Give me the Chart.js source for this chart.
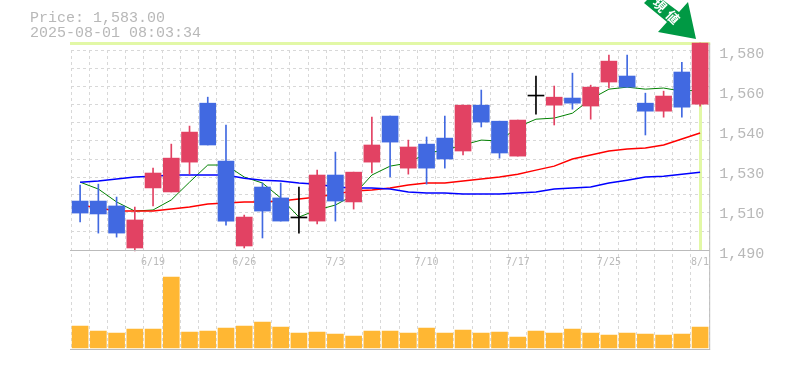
<!DOCTYPE html>
<html>
<head>
<meta charset="utf-8">
<script src="https://cdn.jsdelivr.net/npm/chart.js@4"></script>
<style>
  body { margin: 0; background: #fff; overflow: hidden; }
  #wrap { position: relative; width: 785px; height: 370px; }
  #info { position: absolute; left: 30px; top: 11px; font: 15px/15px "Liberation Mono", monospace; color: #b8b8b8; white-space: pre; }
  #arrow { position: absolute; left: 0; top: 0; }
</style>
</head>
<body>
<div id="wrap">
  <canvas id="chart" width="785" height="370"></canvas>
  <div id="info">Price: 1,583.00
2025-08-01 08:03:34</div>
  <svg id="arrow" width="785" height="50">
    <polygon points="644,3 647,0 663,0 679,12 688,2 696,39 658,32 667,22" fill="#009944"/>
    <text x="660" y="10" transform="rotate(45 660 5)" text-anchor="middle" font-family="Noto Sans CJK JP" font-weight="700" font-size="13" fill="#fff">現</text>
    <text x="673" y="22" transform="rotate(45 673 17)" text-anchor="middle" font-family="Noto Sans CJK JP" font-weight="700" font-size="13" fill="#fff">値</text>
  </svg>
</div>
<script>
// ── Data ──
const dates = ['6/13','6/16','6/17','6/18','6/19','6/20','6/23','6/24','6/25','6/26','6/27','6/30','7/1','7/2','7/3','7/4','7/7','7/8','7/9','7/10','7/11','7/14','7/15','7/16','7/17','7/18','7/22','7/23','7/24','7/25','7/28','7/29','7/30','7/31','8/1'];
const shownDates = ['6/19','6/26','7/3','7/10','7/17','7/25','8/1'];

const opens  = [1512.0,1512.0,1509.8,1490.9,1517.9,1516.1,1529.5,1556.0,1530.0,1491.8,1518.3,1513.4,1504.4,1503.0,1523.7,1511.6,1529.5,1550.2,1526.8,1537.6,1540.3,1534.5,1555.1,1547.9,1532.2,1559.2,1555.1,1558.3,1554.7,1565.5,1568.2,1556.0,1552.4,1570.0,1555.6];
const closes = [1506.6,1506.2,1497.6,1503.5,1524.6,1531.3,1543.0,1537.2,1503.0,1504.8,1507.5,1503.0,1504.4,1523.7,1512.0,1525.0,1537.2,1538.5,1536.3,1526.8,1530.9,1555.1,1547.5,1533.6,1548.4,1559.2,1558.7,1556.0,1563.2,1574.9,1563.2,1552.4,1559.2,1554.2,1583.0];
const highs  = [1519.2,1519.6,1513.8,1509.3,1526.8,1537.6,1545.7,1558.7,1546.2,1505.7,1520.1,1520.1,1518.3,1525.9,1534.0,1525.0,1549.7,1550.2,1539.4,1540.8,1550.2,1555.1,1561.9,1547.9,1548.4,1568.2,1563.7,1569.5,1564.1,1577.6,1577.6,1560.5,1561.4,1574.4,1583.0];
const lows   = [1502.6,1497.6,1495.8,1489.6,1509.8,1516.1,1524.1,1537.2,1501.2,1490.9,1495.4,1503.0,1497.6,1501.7,1503.0,1508.4,1524.6,1522.8,1524.1,1519.6,1526.8,1532.7,1545.3,1531.3,1532.2,1551.1,1546.2,1553.3,1548.8,1562.8,1563.2,1541.7,1549.7,1549.7,1554.7];

const maShort = [1520.5,1517.4,1511.6,1507.5,1508.0,1512.5,1520.5,1528.2,1528.2,1522.8,1520.1,1513.4,1504.8,1508.0,1510.2,1514.7,1523.7,1527.7,1529.1,1533.6,1534.9,1537.2,1539.4,1539.0,1545.3,1548.8,1549.3,1551.5,1557.8,1562.3,1563.2,1562.3,1562.8,1561.4,1561.9];
const maMid   = [1510.2,1508.9,1507.5,1507.5,1507.5,1508.4,1509.3,1510.7,1511.1,1511.6,1511.6,1512.0,1512.9,1513.8,1515.2,1516.5,1517.0,1517.9,1519.2,1520.1,1520.1,1521.0,1521.9,1522.8,1524.1,1525.9,1527.7,1530.9,1532.7,1534.5,1535.4,1535.8,1537.2,1539.9,1542.6];
const maLong  = [1520.5,1521.0,1521.9,1522.8,1523.2,1523.7,1523.7,1523.7,1523.7,1522.3,1521.4,1521.0,1520.1,1519.6,1518.3,1517.9,1517.9,1517.4,1516.1,1515.6,1515.6,1515.2,1515.2,1515.2,1515.6,1516.1,1517.4,1517.9,1518.3,1520.1,1521.4,1522.8,1523.2,1524.1,1525.0];

const volumes = [22,17,15,19,19,71,16,17,20,22,26,21,15,16,14,12,17,17,15,20,15,18,15,16,11,17,15,19,15,13,15,14,13,14,21];

const priceTicks = [1580,1562,1544,1526,1508,1490];
const priceTickLabels = ['1,580','1,560','1,540','1,530','1,510','1,490'];
const gridPrices = [1579.9,1571.8,1563.7,1555.6,1547.5,1539.0,1530.9,1522.8,1514.8,1506.7,1498.1];
const lastPrice = 1583;
const panelBottom = 1490;

const UP = '#e24263', DOWN = '#4169e1', FLAT = '#000000';
const candleColors = opens.map((o, i) => closes[i] > o ? UP : closes[i] < o ? DOWN : FLAT);

// ── Repères : prix courant et cadre ──
const marks = {
  id: 'marks',
  beforeDatasetsDraw(chart) {
    const { ctx, chartArea: a, scales } = chart;
    const yTop = Math.round(scales.y.getPixelForValue(lastPrice)) + 0.5;
    const yBase = scales.y.getPixelForValue(panelBottom);
    const xLast = Math.round(scales.x.getPixelForValue(dates.length - 1)) + 0.5;
    ctx.save();
    ctx.strokeStyle = '#e2f8a6';
    ctx.lineWidth = 3;
    ctx.beginPath();
    ctx.moveTo(a.left - 1, yTop);
    ctx.lineTo(a.right + 1, yTop);
    ctx.moveTo(xLast, yTop);
    ctx.lineTo(xLast, yBase);
    ctx.stroke();
    ctx.restore();
  },
  afterDatasetsDraw(chart) {
    const { ctx, chartArea: a, scales } = chart;
    const yTop = scales.y.getPixelForValue(lastPrice);
    const yBase = Math.round(scales.y.getPixelForValue(panelBottom)) + 0.5;
    ctx.save();
    ctx.strokeStyle = '#bbbbbb';
    ctx.lineWidth = 1;
    ctx.beginPath();
    ctx.moveTo(a.left - 1, yBase);
    ctx.lineTo(a.right, yBase);
    ctx.moveTo(a.left - 1, a.bottom + 0.5);
    ctx.lineTo(a.right + 1, a.bottom + 0.5);
    ctx.moveTo(a.right + 0.5, yTop);
    ctx.lineTo(a.right + 0.5, a.bottom + 0.5);
    ctx.stroke();
    ctx.restore();
  }
};

const lineDs = (data, color, width) => ({
  type: 'line', data, yAxisID: 'y', order: 4,
  borderColor: color, borderWidth: width, pointRadius: 0, tension: 0, fill: false
});

new Chart(document.getElementById('chart'), {
  data: {
    labels: dates,
    datasets: [
      { type: 'bar', data: volumes, yAxisID: 'yVol', order: 5, grouped: false,
        backgroundColor: '#ffb733', barThickness: 16 },
      lineDs(maLong, '#0000ff', 1.5),
      lineDs(maMid, '#ff0000', 1.5),
      lineDs(maShort, '#008000', 1),
      { type: 'bar', data: lows.map((l, i) => [l, highs[i]]), yAxisID: 'y', order: 2, grouped: false,
        clip: false, backgroundColor: candleColors, barThickness: 1 },
      { type: 'bar', data: opens.map((o, i) => [o, closes[i]]), yAxisID: 'y', order: 1, grouped: false,
        clip: false, backgroundColor: candleColors, barThickness: 16, minBarLength: 1 }
    ]
  },
  options: {
    responsive: false,
    animation: false,
    layout: { padding: { left: 71, top: 50, right: 0, bottom: 0 } },
    plugins: { legend: { display: false }, tooltip: { enabled: false } },
    scales: {
      x: {
        offset: true,
        // la marge de ticks.padding ne doit pas réduire la zone du graphique
        afterFit: s => { s.height = 21; s.paddingLeft = 0; s.paddingRight = 0; },
        border: { display: false, dash: [3, 3] },
        grid: { color: '#d8d8d8', offset: true, drawTicks: false },
        ticks: {
          autoSkip: false, maxRotation: 0, mirror: true, padding: 81, color: '#bbbbbb',
          font: { family: 'DejaVu Sans Mono', size: 10 },
          callback(v) {
            const d = dates[v];
            return shownDates.includes(d) ? d : '';
          }
        }
      },
      y: {
        position: 'right', min: 1445.5, max: 1579.9,
        afterFit: s => { s.width = 75.8; },
        afterBuildTicks: s => { s.ticks = priceTicks.map(value => ({ value })); },
        border: { display: false },
        grid: { display: false },
        ticks: {
          padding: 2, labelOffset: 4, color: '#b8b8b8',
          font: { family: 'Liberation Mono', size: 15 },
          callback: (v, i) => priceTickLabels[i]
        }
      },
      yGrid: {
        position: 'right', min: 1445.5, max: 1579.9,
        afterFit: s => { s.width = 0; },
        afterBuildTicks: s => { s.ticks = gridPrices.map(value => ({ value })); },
        border: { display: false, dash: [3, 3] },
        grid: { color: '#d8d8d8', drawTicks: false },
        ticks: { display: false }
      },
      yVol: { display: false, min: -1, max: 298 }
    }
  },
  plugins: [marks]
});
</script>
</body>
</html>
